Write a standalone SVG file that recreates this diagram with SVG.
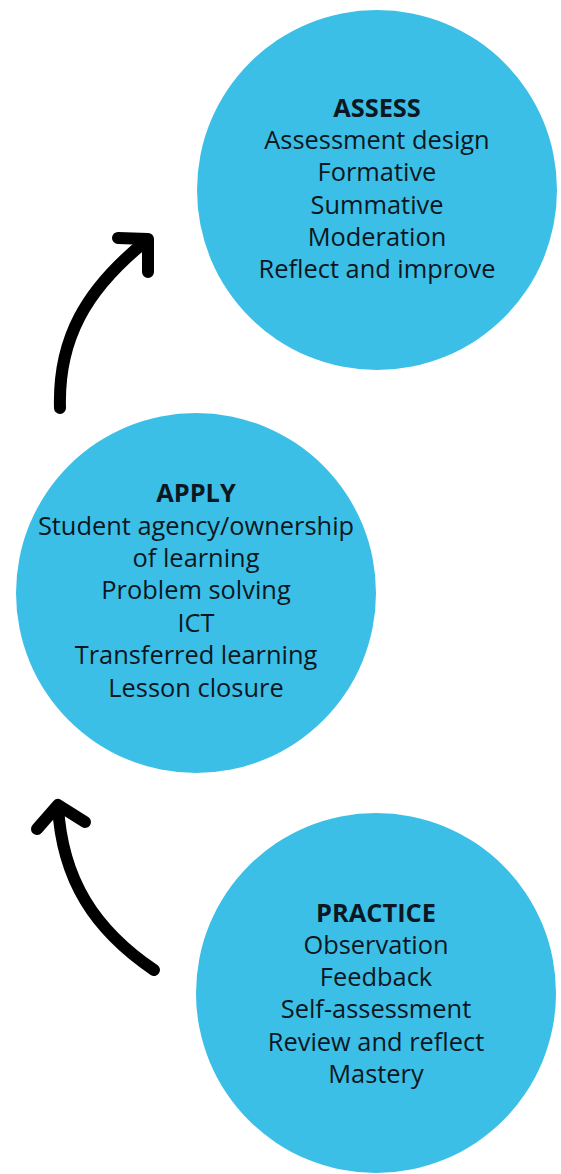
<svg xmlns="http://www.w3.org/2000/svg" width="561" height="1174" viewBox="0 0 561 1174">
<style>
.c{fill:#3cbfe6}
.t{font-family:"Open Sans","Noto Sans",sans-serif;font-size:25.4px;fill:#0c1722;text-anchor:middle}
.h{font-weight:bold;font-size:25.4px}
.a{fill:none;stroke:#000;stroke-width:12;stroke-linecap:round;stroke-linejoin:round}
</style>
<rect width="561" height="1174" fill="#fff"/>
<g id="assess">
<circle class="c" cx="377" cy="190" r="180"/>
<text class="t h" x="377" y="117">ASSESS</text>
<text class="t" x="377" y="149">Assessment design</text>
<text class="t" x="377" y="181">Formative</text>
<text class="t" x="377" y="214">Summative</text>
<text class="t" x="377" y="246">Moderation</text>
<text class="t" x="377" y="278">Reflect and improve</text>
</g>
<g id="apply">
<circle class="c" cx="196" cy="593" r="180"/>
<text class="t h" x="196" y="502">APPLY</text>
<text class="t" x="196" y="535">Student agency/ownership</text>
<text class="t" x="196" y="567">of learning</text>
<text class="t" x="196" y="599">Problem solving</text>
<text class="t" x="196" y="632">ICT</text>
<text class="t" x="196" y="664">Transferred learning</text>
<text class="t" x="196" y="697">Lesson closure</text>
</g>
<g id="practice">
<circle class="c" cx="376" cy="993" r="180"/>
<text class="t h" x="376" y="922">PRACTICE</text>
<text class="t" x="376" y="954">Observation</text>
<text class="t" x="376" y="986">Feedback</text>
<text class="t" x="376" y="1018">Self-assessment</text>
<text class="t" x="376" y="1051">Review and reflect</text>
<text class="t" x="376" y="1083">Mastery</text>
</g>
<g id="connectors">
<path class="a" d="M60 408 C58 340 85 290 146 241"/>
<path class="a" d="M118 238 L148 239 L148 272"/>
<path class="a" d="M154 970 C95 930 62 880 58 806"/>
<path class="a" d="M37 829 L58 805 L85 822"/>
</g>
</svg>
